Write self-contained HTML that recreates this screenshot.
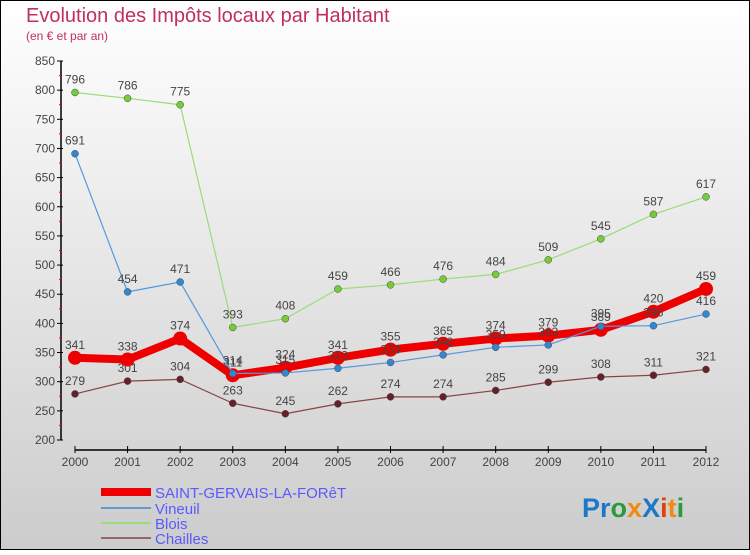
<!DOCTYPE html>
<html><head><meta charset="utf-8">
<style>
html,body{margin:0;padding:0}
body{width:750px;height:550px;overflow:hidden;font-family:"Liberation Sans",sans-serif}
svg text{font-family:"Liberation Sans",sans-serif}
</style></head>
<body>
<svg id="chart" width="750" height="550" viewBox="0 0 750 550" xmlns="http://www.w3.org/2000/svg">
<defs>
<linearGradient id="bg" x1="0" y1="0" x2="0" y2="1">
<stop offset="0" stop-color="#ffffff"/><stop offset="1" stop-color="#cccccc"/>
</linearGradient>
</defs>
<rect x="0.5" y="0.5" width="749" height="549" fill="url(#bg)" stroke="#000"/>
<text x="26" y="22" font-size="20" fill="#c0305a">Evolution des Impôts locaux par Habitant</text>
<text x="26" y="40" font-size="12" fill="#c0305a">(en € et par an)</text>
<g id="axes"></g>
<g id="series"></g>
<g font-size="15" fill="#5a5aff">
<rect x="101" y="488" width="50" height="8" fill="#ee0000"/>
<text x="155" y="498">SAINT-GERVAIS-LA-FORêT</text>
<rect x="101" y="507" width="50" height="2" fill="#6699cc"/>
<text x="155" y="514">Vineuil</text>
<rect x="101" y="522" width="50" height="2" fill="#99dd77"/>
<text x="155" y="529">Blois</text>
<rect x="101" y="537" width="50" height="2" fill="#996666"/>
<text x="155" y="544">Chailles</text>
</g>
<text x="582" y="517" font-size="27" font-family="DejaVu Sans, sans-serif" font-weight="bold"><tspan fill="#1e78c8">Pr</tspan><tspan fill="#2a9a3a">o</tspan><tspan fill="#f08a10">x</tspan><tspan fill="#1e78c8">X</tspan><tspan fill="#e04010">i</tspan><tspan fill="#f08a10">t</tspan><tspan fill="#2a9a3a">i</tspan></text>
</svg>
<script>
const years = ["2000","2001","2002","2003","2004","2005","2006","2007","2008","2009","2010","2011","2012"];
const yTicks = [200,250,300,350,400,450,500,550,600,650,700,750,800,850];
const sgv = [341,338,374,311,324,341,355,365,374,379,389,420,459];
const vineuil = [691,454,471,314,315,323,333,346,359,363,395,396,416];
const blois = [796,786,775,393,408,459,466,476,484,509,545,587,617];
const chailles = [279,301,304,263,245,262,274,274,285,299,308,311,321];

const NS="http://www.w3.org/2000/svg";
function x(i){return 75+i*(706-75)/12;}
function y(v){return 61+(850-v)*(379/650);}
function mk(tag,attrs,parent){const e=document.createElementNS(NS,tag);for(const k in attrs)e.setAttribute(k,attrs[k]);parent.appendChild(e);return e;}
const ax=document.getElementById('axes');
let yl=mk('line',{x1:61,y1:61,x2:61,y2:440,stroke:'#000','stroke-width':1.5},ax);


yTicks.forEach(v=>{
  const yy=y(v);
  mk('line',{x1:57,y1:yy,x2:63,y2:yy,stroke:'#000'},ax);
  if(v<850){const m=mk('line',{x1:59,y1:yy-14.6,x2:62,y2:yy-14.6,stroke:'#ee0000'},ax);}
  const t=mk('text',{x:55,y:yy+4,'text-anchor':'end','font-size':12,fill:'#444'},ax);
  
  
  t.textContent=v;
});
let xl=mk('line',{x1:75,y1:450,x2:706,y2:450,stroke:'#000','stroke-width':1.5},ax);


years.forEach((yr,i)=>{
  mk('line',{x1:x(i),y1:446,x2:x(i),y2:453,stroke:'#000'},ax);
  const t=mk('text',{x:x(i),y:466,'text-anchor':'middle','font-size':12,fill:'#444'},ax);
  
  
  t.textContent=yr;
});
const sg=document.getElementById('series');
function draw(name,data,color,w,r,dot){
  const g=mk('g',{},sg);
  
  
  const pts=data.map((v,i)=>x(i)+','+y(v)).join(' ');
  const pl=mk('polyline',{points:pts,fill:'none',stroke:color,'stroke-width':w,'stroke-linejoin':'round'},g);
  
  
  data.forEach((v,i)=>{
    const c=mk('circle',{cx:x(i),cy:y(v),r:r,fill:dot,stroke:w>3?'none':'#446',"stroke-width":0.5},g);
    
    
    const t=mk('text',{x:x(i),y:y(v)-9,'text-anchor':'middle','font-size':12,fill:'#444'},g);
    
    
    t.textContent=v;
  });
}
draw('chailles',chailles,'#884444',1.2,3.5,'#662222');
draw('blois',blois,'#99dd77',1.2,3.5,'#77cc33');
draw('saint-gervais',sgv,'#ee0000',8,7,'#ee0000');
draw('vineuil',vineuil,'#5599dd',1.2,3.5,'#3388cc');
</script>
</body></html>
